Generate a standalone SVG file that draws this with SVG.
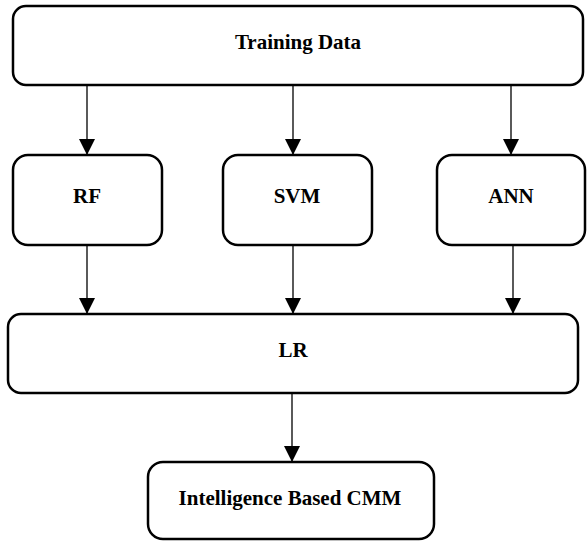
<svg xmlns="http://www.w3.org/2000/svg" width="587" height="541" viewBox="0 0 587 541">
<style>
.box{fill:#fff;stroke:#000;stroke-width:2.5}
.lbl{font-family:"Liberation Serif","Times New Roman",serif;font-weight:bold;font-size:21px;text-anchor:middle;fill:#000}
.con{stroke:#000;stroke-width:1.3;fill:none;marker-end:url(#ah)}
</style>
<defs>
<marker id="ah" markerUnits="userSpaceOnUse" markerWidth="16" markerHeight="16" viewBox="0 0 16 16" refX="16" refY="8" orient="auto">
<path d="M0,0 L16,8 L0,16 Z" fill="#000"/>
</marker>
</defs>
<g id="connectors">
<line class="con" x1="87" y1="85" x2="87" y2="155"/>
<line class="con" x1="293" y1="85" x2="293" y2="155"/>
<line class="con" x1="511" y1="85" x2="511" y2="155"/>
<line class="con" x1="87" y1="245" x2="87" y2="314"/>
<line class="con" x1="293" y1="245" x2="293" y2="314"/>
<line class="con" x1="513" y1="245" x2="513" y2="314"/>
<line class="con" x1="292" y1="393" x2="292" y2="462"/>
</g>
<g id="training">
<rect class="box" x="13" y="6" width="570" height="79" rx="13"/>
<text class="lbl" x="298" y="49">Training Data</text>
</g>
<g id="rf">
<rect class="box" x="13" y="155" width="149" height="90" rx="15"/>
<text class="lbl" x="87" y="203">RF</text>
</g>
<g id="svm">
<rect class="box" x="223" y="155" width="149" height="90" rx="15"/>
<text class="lbl" x="297" y="203">SVM</text>
</g>
<g id="ann">
<rect class="box" x="437" y="155" width="148" height="90" rx="15"/>
<text class="lbl" x="511" y="203">ANN</text>
</g>
<g id="lr">
<rect class="box" x="8" y="314" width="570" height="79" rx="13"/>
<text class="lbl" x="293" y="357">LR</text>
</g>
<g id="cmm">
<rect class="box" x="148" y="462" width="286" height="77" rx="15"/>
<text class="lbl" x="290" y="505">Intelligence Based CMM</text>
</g>
</svg>
